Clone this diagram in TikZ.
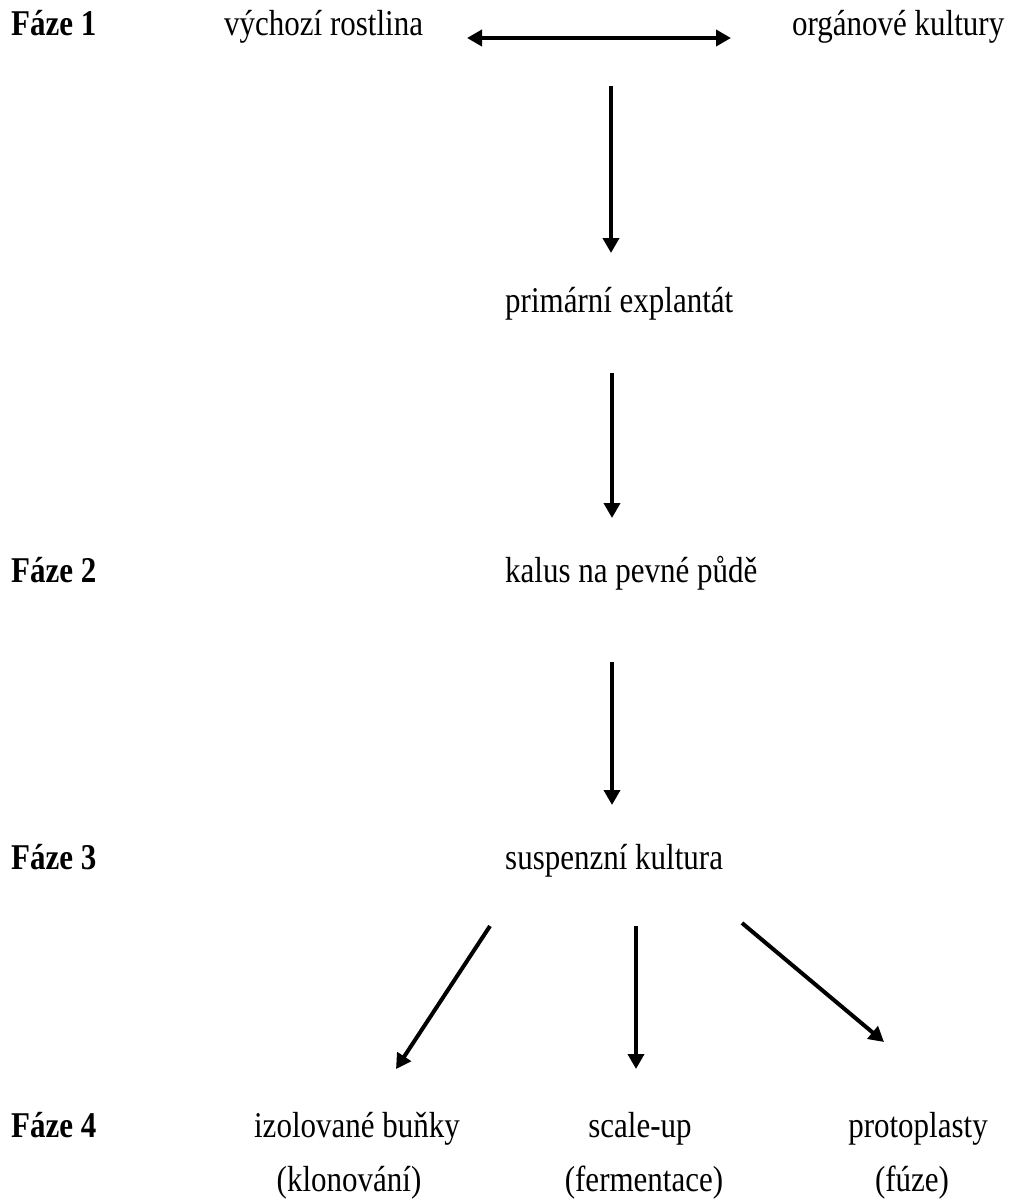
\documentclass[tikz,border=0pt]{standalone}
\usepackage{fontspec}
\usepackage{graphicx}
\setmainfont{Liberation Serif}
\usetikzlibrary{arrows.meta}
\newcommand{\tall}[1]{\scalebox{1}[1.17]{#1}}
\begin{document}
\begin{tikzpicture}[x=1pt,y=-1pt,
  txt/.style={inner sep=0pt,anchor=base,font=\fontsize{31}{36}\selectfont},
  ltxt/.style={txt,anchor=base west},
  phase/.style={txt,anchor=base west,font=\fontsize{31}{36}\selectfont\bfseries},
  arr/.style={line width=4pt,-{Triangle[length=15pt,width=16pt]}},
  darr/.style={line width=4pt,{Triangle[length=15pt,width=16pt]}-{Triangle[length=15pt,width=16pt]}}]
\useasboundingbox (0,0) rectangle (1014,1202);
% phases
\node[phase] (f1) at (11,35) {\tall{Fáze 1}};
\node[phase] (f2) at (11,582) {\tall{Fáze 2}};
\node[phase] (f3) at (11,869) {\tall{Fáze 3}};
\node[phase] (f4) at (11,1137) {\tall{Fáze 4}};
% texts
\node[ltxt] (vr) at (224,35) {\tall{výchozí rostlina}};
\node[ltxt] (ok) at (792,35) {\tall{orgánové kultury}};
\node[ltxt] (pe) at (505,312) {\tall{primární explantát}};
\node[ltxt] (kp) at (505,582) {\tall{kalus na pevné půdě}};
\node[ltxt] (sk) at (505,869) {\tall{suspenzní kultura}};
\node[txt] (ib) at (357,1137) {\tall{izolované buňky}};
\node[txt] (su) at (640,1137) {\tall{scale-up}};
\node[txt] (pr) at (918,1137) {\tall{protoplasty}};
\node[txt] (kl) at (349,1191) {\tall{(klonování)}};
\node[txt] (fe) at (644,1191) {\tall{(fermentace)}};
\node[txt] (fu) at (912,1191) {\tall{(fúze)}};
% arrow end points
\coordinate (d1) at (467,38);
\coordinate (d2) at (731,38);
\coordinate (a1s) at (611,86);
\coordinate (a1e) at (611,253);
\coordinate (a2s) at (612,373);
\coordinate (a2e) at (612,518);
\coordinate (a3s) at (612,662);
\coordinate (a3e) at (612,805);
\coordinate (bls) at (490,926);
\coordinate (ble) at (396,1069);
\coordinate (bms) at (636,926);
\coordinate (bme) at (636,1069);
\coordinate (brs) at (742,923);
\coordinate (bre) at (884,1042);
% arrows
\draw[darr] (d1) -- (d2);
\draw[arr] (a1s) -- (a1e);
\draw[arr] (a2s) -- (a2e);
\draw[arr] (a3s) -- (a3e);
\draw[arr] (bls) -- (ble);
\draw[arr] (bms) -- (bme);
\draw[arr] (brs) -- (bre);
\end{tikzpicture}
\end{document}
